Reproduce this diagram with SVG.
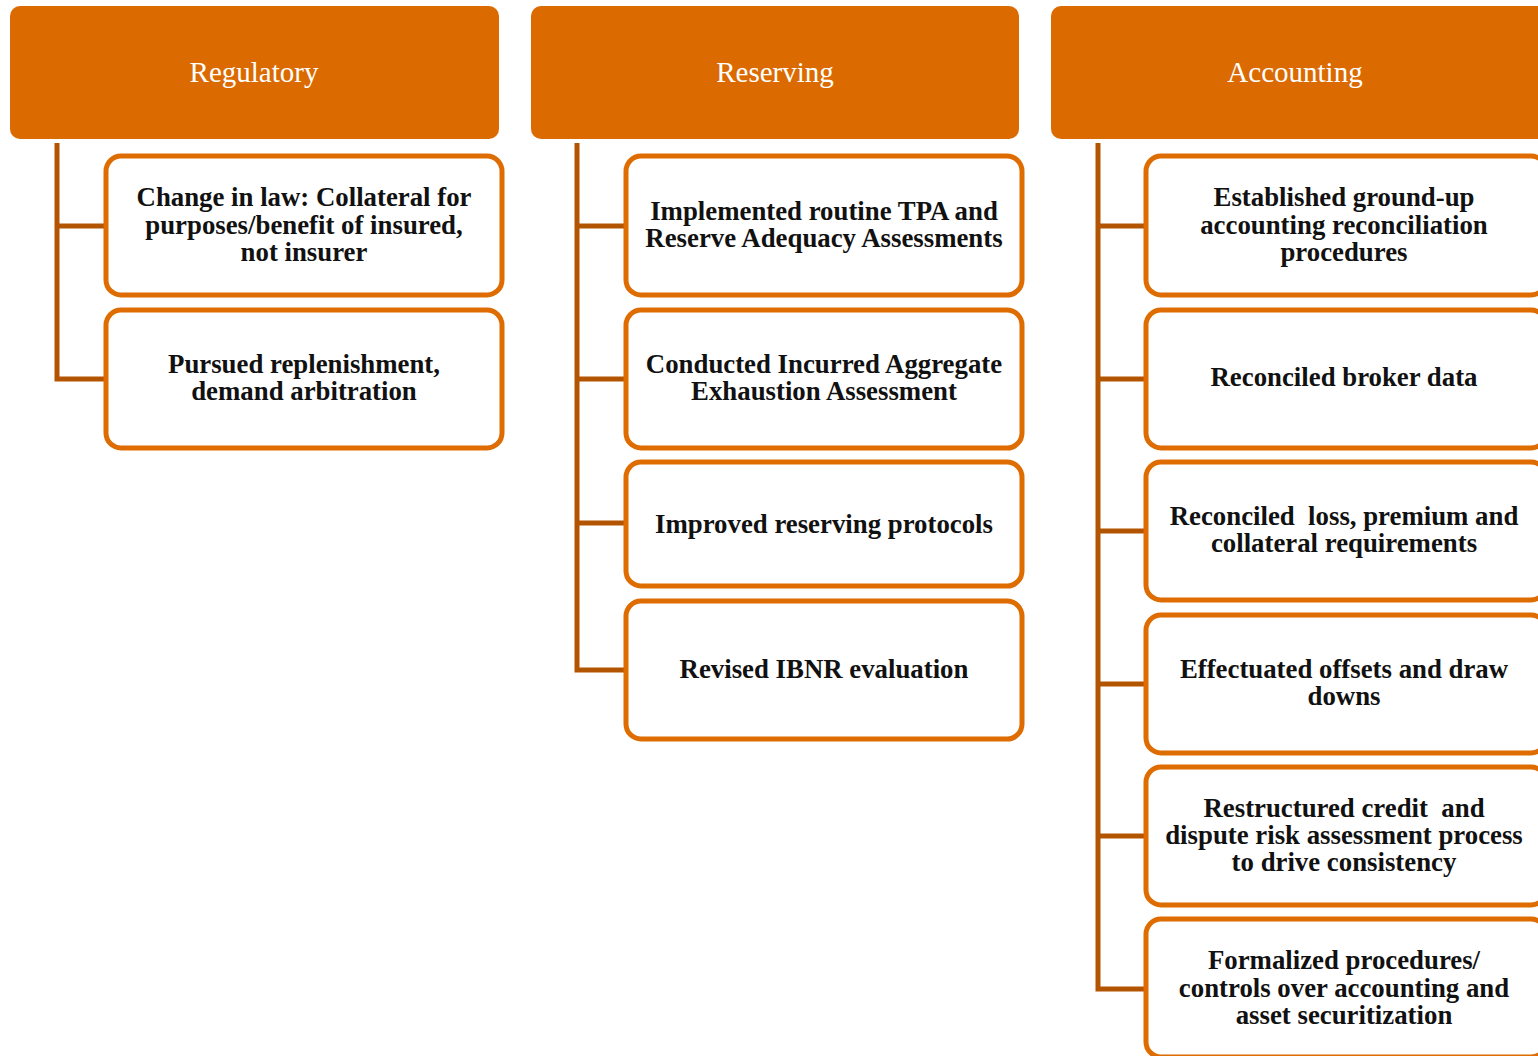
<svg xmlns="http://www.w3.org/2000/svg" width="1538" height="1056" viewBox="0 0 1538 1056">
<style>
.hdr{fill:#DB6A00}
.hdr-t{fill:#ffffff;font-family:"Liberation Serif",serif;font-size:29px;text-anchor:middle}
.box{fill:#ffffff;stroke:#DE6C00;stroke-width:5}
.t{fill:#111111;font-family:"Liberation Serif",serif;font-weight:bold;font-size:26.8px;text-anchor:middle;white-space:pre}
.conn{fill:none;stroke:#B35400;stroke-width:5}
</style>
<rect width="1538" height="1056" fill="#ffffff"/>
<g id="connectors">
<path class="conn" d="M57,143 V379 H106 M57,226 H106"/>
<path class="conn" d="M577,143 V670 H626 M577,226 H626 M577,379 H626 M577,523 H626"/>
<path class="conn" d="M1098,143 V989 H1146 M1098,226 H1146 M1098,379 H1146 M1098,531 H1146 M1098,684 H1146 M1098,836 H1146"/>
</g>
<g id="regulatory"><rect class="hdr" x="10" y="6" width="489" height="133" rx="10"/><text class="hdr-t" x="254" y="82">Regulatory</text></g>
<g id="reserving"><rect class="hdr" x="531" y="6" width="488" height="133" rx="10"/><text class="hdr-t" x="775" y="82">Reserving</text></g>
<g id="accounting"><rect class="hdr" x="1051" y="6" width="497" height="133" rx="10"/><text class="hdr-t" x="1295" y="82">Accounting</text></g>

<g id="reg1"><rect class="box" x="106" y="156" width="396" height="139" rx="15"/><text class="t" x="304" y="206">Change in law: Collateral for</text><text class="t" x="304" y="234">purposes/benefit of insured,</text><text class="t" x="304" y="261">not insurer</text></g>
<g id="reg2"><rect class="box" x="106" y="310" width="396" height="138" rx="15"/><text class="t" x="304" y="373">Pursued replenishment,</text><text class="t" x="304" y="400">demand arbitration</text></g>

<g id="res1"><rect class="box" x="626" y="156" width="396" height="139" rx="15"/><text class="t" x="824" y="220">Implemented routine TPA and</text><text class="t" x="824" y="247">Reserve Adequacy Assessments</text></g>
<g id="res2"><rect class="box" x="626" y="310" width="396" height="138" rx="15"/><text class="t" x="824" y="373">Conducted Incurred Aggregate</text><text class="t" x="824" y="400">Exhaustion Assessment</text></g>
<g id="res3"><rect class="box" x="626" y="462" width="396" height="124" rx="15"/><text class="t" x="824" y="533">Improved reserving protocols</text></g>
<g id="res4"><rect class="box" x="626" y="601" width="396" height="138" rx="15"/><text class="t" x="824" y="678">Revised IBNR evaluation</text></g>

<g id="acc1"><rect class="box" x="1146" y="156" width="400" height="139" rx="15"/><text class="t" x="1344" y="206">Established ground-up</text><text class="t" x="1344" y="234">accounting reconciliation</text><text class="t" x="1344" y="261">procedures</text></g>
<g id="acc2"><rect class="box" x="1146" y="310" width="400" height="138" rx="15"/><text class="t" x="1344" y="386">Reconciled broker data</text></g>
<g id="acc3"><rect class="box" x="1146" y="462" width="400" height="138" rx="15"/><text class="t" x="1344" y="525">Reconciled  loss, premium and</text><text class="t" x="1344" y="552">collateral requirements</text></g>
<g id="acc4"><rect class="box" x="1146" y="615" width="400" height="138" rx="15"/><text class="t" x="1344" y="678">Effectuated offsets and draw</text><text class="t" x="1344" y="705">downs</text></g>
<g id="acc5"><rect class="box" x="1146" y="767" width="400" height="138" rx="15"/><text class="t" x="1344" y="817">Restructured credit  and</text><text class="t" x="1344" y="844">dispute risk assessment process</text><text class="t" x="1344" y="871">to drive consistency</text></g>
<g id="acc6"><rect class="box" x="1146" y="919" width="400" height="138" rx="15"/><text class="t" x="1344" y="969">Formalized procedures/</text><text class="t" x="1344" y="997">controls over accounting and</text><text class="t" x="1344" y="1024">asset securitization</text></g>
</svg>
